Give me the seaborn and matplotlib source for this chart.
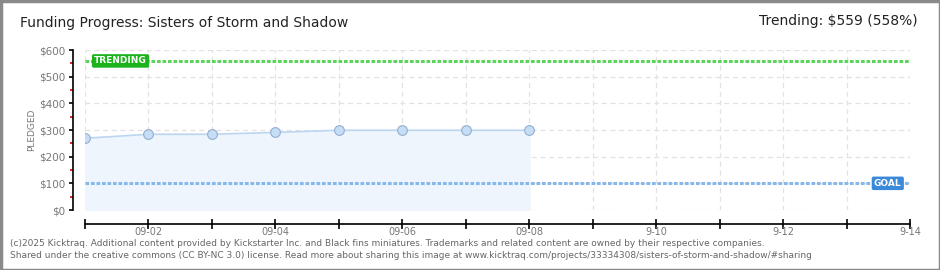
import matplotlib
matplotlib.use("Agg")
import matplotlib.pyplot as plt
import seaborn as sns
import pandas as pd
from matplotlib.patches import Rectangle

# ---- data ----
dates = ["09-01", "09-02", "09-03", "09-04", "09-05", "09-06", "09-07", "09-08"]
pledged = [269, 284, 284, 291, 299, 299, 299, 299]
goal = 100
trending = 559
y_ticks = [0, 100, 200, 300, 400, 500, 600]
y_tick_labels = ["$0", "$100", "$200", "$300", "$400", "$500", "$600"]
x_tick_days = [2, 4, 6, 8, 10, 12, 14]
x_tick_labels = ["09-02", "09-04", "09-06", "09-08", "9-10", "9-12", "9-14"]
title = "Funding Progress: Sisters of Storm and Shadow"
trend_text = "Trending: $559 (558%)"
footer1 = ("(c)2025 Kicktraq. Additional content provided by Kickstarter Inc. and Black fins miniatures. "
           "Trademarks and related content are owned by their respective companies.")
footer2 = ("Shared under the creative commons (CC BY-NC 3.0) license. Read more about sharing this image at "
           "www.kicktraq.com/projects/33334308/sisters-of-storm-and-shadow/#sharing")

df = pd.DataFrame({"day": [int(d.split("-")[1]) for d in dates], "pledged": pledged})

sns.set_theme(style="white")
plt.rcParams["font.family"] = ["DejaVu Sans"]

fig = plt.figure(figsize=(9.4, 2.7), dpi=100)
ax = fig.add_axes([85 / 940, 60 / 270, 825 / 940, 160 / 270])

# grid
for d in range(1, 15):
    ax.axvline(d, color="#e2e2e2", lw=0.9, ls=(0, (4, 3)), zorder=0)
for v in y_ticks:
    ax.axhline(v, color="#e2e2e2", lw=0.9, ls=(0, (4, 3)), zorder=0)

# area + line
ax.fill_between(df["day"], 0, df["pledged"], color="#eef5fd", zorder=1)
sns.lineplot(data=df, x="day", y="pledged", ax=ax, color="#bcd6f2", lw=1.2,
             marker="o", markersize=7, markerfacecolor="#c6ddf6",
             markeredgecolor="#93aed0", markeredgewidth=0.8, zorder=3)

# goal / trending lines
ax.axhline(trending, color="#5cd35c", lw=2.2, ls=(0, (1.2, 0.6)), zorder=2)
ax.axhline(goal, color="#86b8ec", lw=2.2, ls=(0, (1.2, 0.6)), zorder=2)
ax.text(1.56, trending, "TRENDING", color="white", fontsize=6.5, fontweight="bold",
        ha="center", va="center", zorder=5,
        bbox=dict(boxstyle="round,pad=0.25,rounding_size=0.2", fc="#1db31d", ec="none"))
ax.text(13.65, goal, "GOAL", color="white", fontsize=6.5, fontweight="bold",
        ha="center", va="center", zorder=5,
        bbox=dict(boxstyle="round,pad=0.25,rounding_size=0.2", fc="#3b8ad9", ec="none"))

ax.set_xlim(1, 14)
ax.set_ylim(0, 600)

# spines
for s in ["top", "right"]:
    ax.spines[s].set_visible(False)
ax.spines["left"].set_position(("outward", 9))
ax.spines["bottom"].set_position(("outward", 10))
ax.spines["left"].set_color("black")
ax.spines["bottom"].set_color("black")
ax.spines["left"].set_linewidth(1.2)
ax.spines["bottom"].set_linewidth(1.2)

ax.set_yticks(y_ticks)
ax.set_yticklabels(y_tick_labels)
ax.set_yticks([50, 150, 250, 350, 450, 550], minor=True)
ax.tick_params(axis="y", which="major", direction="out", length=3, width=1.2,
               color="black", labelsize=7.5, labelcolor="#777777", pad=2, left=True)
ax.tick_params(axis="y", which="minor", direction="out", length=2, width=1.2,
               color="#dd0000", left=True)

ax.set_xticks(range(1, 15))
labels = []
for d in range(1, 15):
    labels.append(x_tick_labels[x_tick_days.index(d)] if d in x_tick_days else "")
ax.set_xticklabels(labels)
ax.tick_params(axis="x", which="major", direction="inout", length=7, width=1.2,
               color="black", labelsize=7, labelcolor="#777777", pad=-1, bottom=True)

ax.set_xlabel("")
ax.set_ylabel("PLEDGED", fontsize=6.5, color="#777777", labelpad=2)

# texts
fig.text(20 / 940, 1 - 23 / 270, title, fontsize=10, color="#222222", ha="left", va="center")
fig.text(918 / 940, 1 - 21 / 270, trend_text, fontsize=10, color="#222222", ha="right", va="center")
fig.text(10 / 940, 1 - 243 / 270, footer1, fontsize=6.5, color="#666666", ha="left", va="center")
fig.text(10 / 940, 1 - 256 / 270, footer2, fontsize=6.5, color="#666666", ha="left", va="center")

# border
fig.patches.append(Rectangle((0.5 / 940, 0.5 / 270), 1 - 1 / 940, 1 - 1 / 270,
                             transform=fig.transFigure, fill=False, ec="#8a8a8a", lw=2.5))

fig.savefig("out.png", dpi=100, facecolor="white")
